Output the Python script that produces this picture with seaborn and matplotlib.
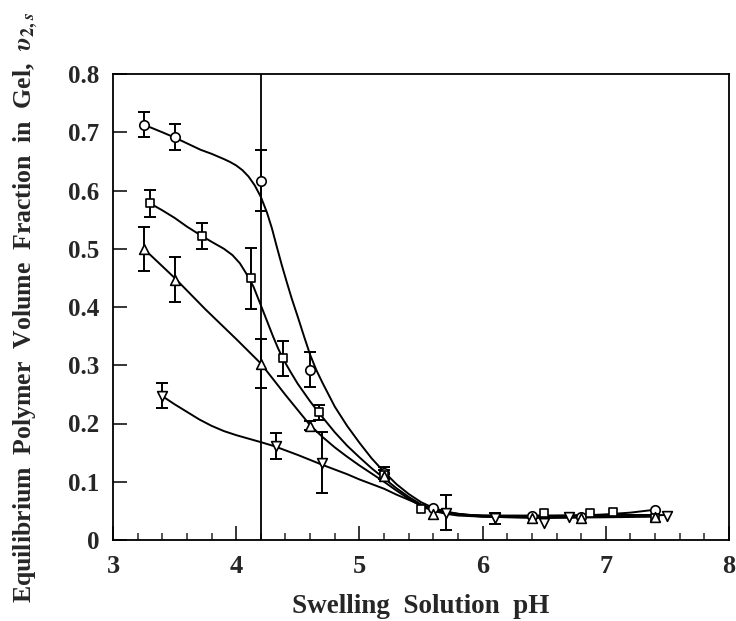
import numpy as np
import pandas as pd
import matplotlib
matplotlib.use("Agg")
import matplotlib.pyplot as plt
import seaborn as sns
from matplotlib.ticker import MultipleLocator

# ---- measured points (pH, polymer volume fraction, error half-width) ----
circ_ph = [3.25, 3.50, 4.20, 4.60, 5.20, 5.60, 6.40, 6.80, 7.40]
circ_v = [0.713, 0.692, 0.617, 0.292, 0.115, 0.055, 0.042, 0.040, 0.051]
circ_err = [0.022, 0.022, 0.052, 0.030, 0.010, 0.0, 0.0, 0.0, 0.0]

sq_ph = [3.30, 3.72, 4.12, 4.38, 4.67, 5.20, 5.50, 6.50, 6.87, 7.06, 7.40]
sq_v = [0.578, 0.522, 0.449, 0.312, 0.219, 0.112, 0.054, 0.046, 0.047, 0.048, 0.037]
sq_err = [0.023, 0.022, 0.053, 0.030, 0.013, 0.008, 0.0, 0.0, 0.0, 0.0, 0.0]

tri_ph = [3.25, 3.50, 4.20, 4.60, 5.20, 5.60, 6.40, 6.80, 7.40]
tri_v = [0.500, 0.447, 0.303, 0.196, 0.110, 0.045, 0.037, 0.038, 0.040]
tri_err = [0.038, 0.038, 0.042, 0.008, 0.0, 0.0, 0.0, 0.0, 0.0]

inv_ph = [3.40, 4.32, 4.70, 5.70, 6.10, 6.50, 6.70, 7.50]
inv_v = [0.248, 0.161, 0.133, 0.047, 0.037, 0.030, 0.040, 0.042]
inv_err = [0.022, 0.022, 0.052, 0.030, 0.009, 0.0, 0.0, 0.0]

# ---- fitted swelling curves ----
circ_fit_ph = [3.25, 3.40, 3.50, 3.60, 3.71, 3.80, 3.90, 3.95, 4.00, 4.05, 4.10, 4.15,
               4.20, 4.25, 4.29, 4.33, 4.37, 4.41, 4.45, 4.50, 4.55, 4.60, 4.65, 4.70,
               4.80, 4.90, 5.00, 5.10, 5.20, 5.30, 5.40, 5.50, 5.60, 5.70, 5.80, 5.90,
               6.00, 6.20, 6.40, 6.60, 6.80, 7.00, 7.20, 7.40]
circ_fit_v = [0.713, 0.700, 0.691, 0.681, 0.670, 0.663, 0.654, 0.649, 0.643, 0.635, 0.624, 0.609,
              0.589, 0.562, 0.535, 0.503, 0.472, 0.443, 0.415, 0.383, 0.350, 0.318, 0.292, 0.270,
              0.229, 0.196, 0.167, 0.140, 0.117, 0.096, 0.079, 0.065, 0.055, 0.049, 0.045, 0.043,
              0.042, 0.041, 0.041, 0.041, 0.042, 0.044, 0.047, 0.052]

sq_fit_ph = [3.30, 3.40, 3.50, 3.60, 3.72, 3.80, 3.90, 3.97, 4.03, 4.08, 4.14, 4.20,
             4.25, 4.30, 4.34, 4.38, 4.44, 4.50, 4.60, 4.68, 4.80, 4.90, 5.00, 5.10,
             5.20, 5.30, 5.40, 5.50, 5.60, 5.70, 5.80, 6.00, 6.50, 7.00, 7.40]
sq_fit_v = [0.578, 0.566, 0.553, 0.538, 0.522, 0.512, 0.500, 0.489, 0.475, 0.458, 0.435, 0.403,
            0.376, 0.349, 0.329, 0.311, 0.289, 0.268, 0.238, 0.216, 0.185, 0.162, 0.142, 0.123,
            0.106, 0.089, 0.074, 0.061, 0.052, 0.047, 0.044, 0.042, 0.042, 0.043, 0.043]

tri_fit_ph = [3.25, 3.50, 3.75, 4.00, 4.20, 4.40, 4.60, 4.70, 4.80, 4.90, 5.00, 5.10,
              5.20, 5.30, 5.40, 5.50, 5.60, 5.70, 5.80, 6.00, 6.50, 7.00, 7.40]
tri_fit_v = [0.500, 0.450, 0.396, 0.345, 0.303, 0.249, 0.197, 0.177, 0.159, 0.143, 0.128, 0.114,
             0.100, 0.085, 0.071, 0.058, 0.050, 0.045, 0.042, 0.040, 0.038, 0.039, 0.040]

inv_fit_ph = [3.40, 3.50, 3.60, 3.70, 3.80, 3.90, 4.00, 4.10, 4.20, 4.31, 4.50, 4.70,
              4.80, 4.90, 5.00, 5.10, 5.20, 5.30, 5.40, 5.50, 5.60, 5.70, 5.80, 5.90,
              6.00, 6.50, 7.00, 7.50]
inv_fit_v = [0.247, 0.233, 0.220, 0.207, 0.196, 0.187, 0.180, 0.174, 0.168, 0.161, 0.146, 0.129,
             0.121, 0.113, 0.104, 0.096, 0.088, 0.078, 0.069, 0.060, 0.053, 0.048, 0.045, 0.042,
             0.040, 0.038, 0.040, 0.043]

pka_ph = 4.2

x_ticks = [3, 4, 5, 6, 7, 8]
y_ticks = [0, 0.1, 0.2, 0.3, 0.4, 0.5, 0.6, 0.7, 0.8]
y_tick_labels = ["0", "0.1", "0.2", "0.3", "0.4", "0.5", "0.6", "0.7", "0.8"]

# ---- style ----
sns.set_theme(style="ticks")
plt.rcParams["font.family"] = ["Liberation Serif", "DejaVu Serif"]
plt.rcParams["font.weight"] = "bold"
plt.rcParams["mathtext.fontset"] = "stix"

fig = plt.figure(figsize=(7.36, 6.21), dpi=100)
ax = fig.add_axes([113 / 736, 81 / 621, 616 / 736, 466 / 621])

series = [
    (circ_ph, circ_v, circ_err, circ_fit_ph, circ_fit_v, "o", 6.8),
    (sq_ph, sq_v, sq_err, sq_fit_ph, sq_fit_v, "s", 6.2),
    (tri_ph, tri_v, tri_err, tri_fit_ph, tri_fit_v, "^", 7.0),
    (inv_ph, inv_v, inv_err, inv_fit_ph, inv_fit_v, "v", 7.0),
]

for ph, v, err, fph, fv, mk, ms in series:
    fit = pd.DataFrame({"pH": fph, "v": fv})
    sns.lineplot(data=fit, x="pH", y="v", ax=ax, color="black", lw=1.4,
                 estimator=None, sort=True, zorder=2)
    pts = pd.DataFrame({"pH": ph, "v": v, "err": err})
    eb = pts[pts["err"] > 0]
    ax.errorbar(eb["pH"], eb["v"], yerr=eb["err"], fmt="none", ecolor="black",
                elinewidth=1.4, capsize=4.5, capthick=1.4, zorder=3)
    sns.scatterplot(data=pts, x="pH", y="v", ax=ax, marker=mk, s=ms ** 2,
                    facecolor="white", edgecolor="black", linewidth=1.2, zorder=4)

ax.axvline(pka_ph, color="black", lw=1.3, zorder=1)

ax.set_xlim(3, 8)
ax.set_ylim(0, 0.8)
ax.set_xticks(x_ticks)
ax.set_xticklabels([str(t) for t in x_ticks])
ax.xaxis.set_minor_locator(MultipleLocator(0.2))
ax.set_yticks(y_ticks)
ax.set_yticklabels(y_tick_labels)

ax.tick_params(axis="x", which="major", direction="in", length=10, width=1.3,
               labelsize=19, pad=11, top=False)
ax.tick_params(axis="x", which="minor", direction="in", length=5, width=1.1, top=False)
ax.tick_params(axis="y", which="major", direction="in", length=10, width=1.3,
               labelsize=18, pad=10, right=False)
for lab in ax.get_xticklabels() + ax.get_yticklabels():
    lab.set_fontweight("bold")

for sp in ax.spines.values():
    sp.set_visible(True)
    sp.set_linewidth(1.3)
    sp.set_color("black")

ax.set_xlabel("Swelling  Solution  pH", fontsize=19.5, fontweight="bold", labelpad=11)
ax.set_ylabel(r"Equilibrium  Polymer  Volume  Fraction  in  Gel,  $\upsilon_{2,s}$",
              fontsize=18.5, fontweight="bold", labelpad=20)
ax.grid(False)

fig.savefig("out.png", dpi=100)
